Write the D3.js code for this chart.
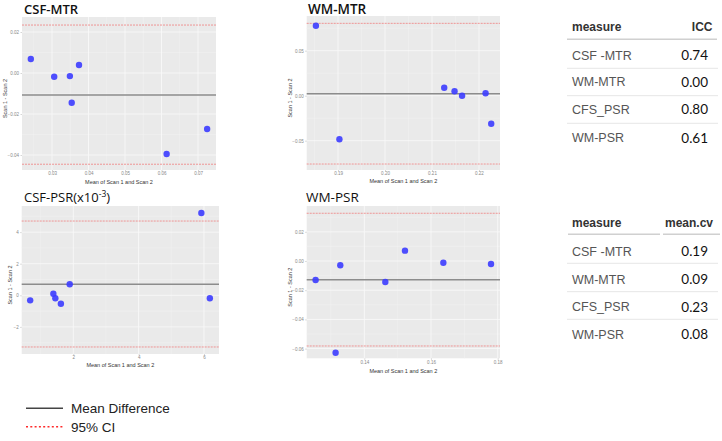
<!DOCTYPE html>
<html><head><meta charset="utf-8">
<script src="https://cdn.jsdelivr.net/npm/d3@7"></script>
<style>
html,body{margin:0;padding:0;background:#fff;}
svg{display:block;}
</style></head>
<body>
<svg id="chart" width="722" height="441"></svg>
<script>
// ---------- data ----------
const panelTitles = ["CSF-MTR", "WM-MTR", "CSF-PSR", "WM-PSR"];
const csfMtrX = [0.0242, 0.0306, 0.0349, 0.0374, 0.0354, 0.0614, 0.0725];
const csfMtrY = [0.0068, -0.0018, -0.0015, 0.0039, -0.0145, -0.0395, -0.0273];
const wmMtrX = [0.1853, 0.1903, 0.2126, 0.2148, 0.2164, 0.2214, 0.2226];
const wmMtrY = [0.0778, -0.0484, 0.0089, 0.0049, 0.0000, 0.0027, -0.0311];
const csfPsrX = [0.68, 1.39, 1.45, 1.62, 1.89, 5.92, 6.18];
const csfPsrY = [-0.32, 0.10, -0.19, -0.53, 0.70, 5.21, -0.19];
const wmPsrX = [0.1254, 0.1314, 0.1328, 0.1463, 0.1522, 0.1637, 0.1780];
const wmPsrY = [-0.0130, -0.0628, -0.0029, -0.0144, 0.0071, -0.0012, -0.0021];
const meanDiff = [-0.0107, 0.0022, 0.696, -0.0128];
const ciUpper = [0.0234, 0.0804, 4.70, 0.0327];
const ciLower = [-0.0445, -0.0759, -3.27, -0.0582];
const xTicks = [[0.03, 0.04, 0.05, 0.06, 0.07], [0.19, 0.20, 0.21, 0.22], [2, 4, 6], [0.14, 0.16, 0.18]];
const yTicks = [[0.02, 0.00, -0.02, -0.04], [0.05, 0.00, -0.05], [4, 2, 0, -2], [0.02, 0.00, -0.02, -0.04, -0.06]];
const xTickFmt = [".2f", ".2f", "d", ".2f"];
const yTickFmt = [".2f", ".2f", "d", ".2f"];

const tableMeasures = ["CSF -MTR", "WM-MTR", "CFS_PSR", "WM-PSR"];
const iccValues = ["0.74", "0.00", "0.80", "0.61"];
const cvValues = ["0.19", "0.09", "0.23", "0.08"];
const legendLabels = ["Mean Difference", "95% CI"];

// ---------- layout ----------
const panels = [
  {x0: 22, x1: 216, y0: 17, y1: 170, xd: [0.02178, 0.07493], yd: [0.02732, -0.04732], tx: 24, ty: 14, fs: 13, bold: 600, ylx: 5, xly: 183.5},
  {x0: 306.7, x1: 500, y0: 16, y1: 170, xd: [0.18334, 0.22447], yd: [0.08856, -0.08256], tx: 308, ty: 13.5, fs: 13.5, bold: 600, ylx: 290, xly: 182.5},
  {x0: 21.7, x1: 219, y0: 206, y1: 354, xd: [0.4206, 6.46], yd: [5.652, -3.715], tx: 24, ty: 202, fs: 13, bold: 500, ylx: 10, xly: 366.5},
  {x0: 306.7, x1: 500, y0: 206, y1: 358.3, xd: [0.12273, 0.18069], yd: [0.03767, -0.06664], tx: 306, ty: 202, fs: 13.5, bold: 500, ylx: 290, xly: 372.5}
];
const xs = [csfMtrX, wmMtrX, csfPsrX, wmPsrX];
const ys = [csfMtrY, wmMtrY, csfPsrY, wmPsrY];

const svg = d3.select("#chart");

panels.forEach((p, i) => {
  const x = d3.scaleLinear().domain(p.xd).range([p.x0, p.x1]);
  const y = d3.scaleLinear().domain(p.yd).range([p.y0, p.y1]);
  const g = svg.append("g");
  g.append("rect").attr("x", p.x0).attr("y", p.y0).attr("width", p.x1 - p.x0).attr("height", p.y1 - p.y0).attr("fill", "#eaeaea");

  // minor grid
  const xt = xTicks[i], yt = yTicks[i];
  const xstep = xt[1] - xt[0], ystep = yt[0] - yt[1];
  const xMinor = [], yMinor = [];
  for (let k = -2; k < xt.length + 2; k++) { const v = xt[0] + (k + 0.5) * xstep; if (v > p.xd[0] && v < p.xd[1]) xMinor.push(v); }
  for (let k = -2; k < yt.length + 2; k++) { const v = yt[0] - (k + 0.5) * ystep; if (v < p.yd[0] && v > p.yd[1]) yMinor.push(v); }
  g.selectAll(".xm").data(xMinor).join("line").attr("x1", d => x(d)).attr("x2", d => x(d)).attr("y1", p.y0).attr("y2", p.y1).attr("stroke", "#f3f3f3").attr("stroke-width", 0.5);
  g.selectAll(".ym").data(yMinor).join("line").attr("y1", d => y(d)).attr("y2", d => y(d)).attr("x1", p.x0).attr("x2", p.x1).attr("stroke", "#f3f3f3").attr("stroke-width", 0.5);

  // axes
  const xa = d3.axisBottom(x).tickValues(xt).tickFormat(d3.format(xTickFmt[i])).tickSize(1.5).tickPadding(0.8);
  const ya = d3.axisLeft(y).tickValues(yt).tickFormat(d3.format(yTickFmt[i])).tickSize(1.5).tickPadding(1.5);
  const gx = g.append("g").attr("transform", `translate(0,${p.y1})`).call(xa);
  const gy = g.append("g").attr("transform", `translate(${p.x0},0)`).call(ya);
  [gx, gy].forEach(a => {
    a.select(".domain").remove();
    a.selectAll("line").attr("stroke", "#aaa").attr("stroke-width", 0.5);
    a.selectAll("text").attr("fill", "#888").attr("font-size", "4.5px").attr("font-family", "Liberation Sans, Arial, sans-serif");
  });
  // major grid
  g.selectAll(".xg").data(xt).join("line").attr("x1", d => x(d)).attr("x2", d => x(d)).attr("y1", p.y0).attr("y2", p.y1).attr("stroke", "#f8f8f8").attr("stroke-width", 0.9);
  g.selectAll(".yg").data(yt).join("line").attr("y1", d => y(d)).attr("y2", d => y(d)).attr("x1", p.x0).attr("x2", p.x1).attr("stroke", "#f8f8f8").attr("stroke-width", 0.9);

  // CI lines
  [ciUpper[i], ciLower[i]].forEach(v => {
    g.append("line").attr("x1", p.x0).attr("x2", p.x1).attr("y1", y(v)).attr("y2", y(v))
      .attr("stroke", "#f08080").attr("stroke-width", 1).attr("stroke-dasharray", "2,1").attr("opacity", 0.8);
  });
  // mean line
  g.append("line").attr("x1", p.x0).attr("x2", p.x1).attr("y1", y(meanDiff[i])).attr("y2", y(meanDiff[i]))
    .attr("stroke", "#8c8c8c").attr("stroke-width", 1.6);

  // points
  g.selectAll(".pt").data(d3.range(xs[i].length)).join("circle")
    .attr("cx", k => x(xs[i][k])).attr("cy", k => y(ys[i][k])).attr("r", 3.2)
    .attr("fill", "#3c3cff").attr("fill-opacity", 0.9);

  // axis titles
  g.append("text").attr("x", (p.x0 + p.x1) / 2).attr("y", p.xly).attr("text-anchor", "middle")
    .attr("font-size", "5.5px").attr("fill", "#333").attr("font-family", "Liberation Sans, Arial, sans-serif")
    .text("Mean of Scan 1 and Scan 2");
  g.append("text").attr("transform", `translate(${p.ylx + 2},${(p.y0 + p.y1) / 2 + 5}) rotate(-90)`).attr("text-anchor", "middle")
    .attr("font-size", "5.5px").attr("fill", "#333").attr("font-family", "Liberation Sans, Arial, sans-serif")
    .text("Scan 1 - Scan 2");

  // panel title
  const t = g.append("text").attr("x", p.tx).attr("y", p.ty).attr("font-size", p.fs + "px").attr("font-weight", p.bold)
    .attr("font-family", "Open Sans, sans-serif").attr("fill", "#111").text(panelTitles[i]);
  if (i === 2) {
    t.append("tspan").text("(x10");
    t.append("tspan").attr("dy", -5).attr("font-size", "8.5px").text("-3");
    t.append("tspan").attr("dy", 5).text(")");
  }
});

// ---------- tables ----------
function drawTable(headRight, values, splitHeader, rowY, sepY, headY, ruleY, valueHeader) {
  const tg = svg.append("g").attr("font-family", "Liberation Sans, Arial, sans-serif");
  tg.append("text").attr("x", 572).attr("y", headY).attr("font-size", "12px").attr("font-weight", "bold").attr("fill", "#333").text("measure");
  tg.append("text").attr("x", valueHeader.x).attr("y", headY).attr("text-anchor", valueHeader.anchor)
    .attr("font-size", "12px").attr("font-weight", "bold").attr("fill", "#333").text(headRight);
  if (splitHeader) {
    tg.append("line").attr("x1", 568).attr("x2", 660).attr("y1", ruleY).attr("y2", ruleY).attr("stroke", "#d0d0d0").attr("stroke-width", 1.5);
    tg.append("line").attr("x1", 663).attr("x2", 720).attr("y1", ruleY).attr("y2", ruleY).attr("stroke", "#d0d0d0").attr("stroke-width", 1.5);
  } else {
    tg.append("line").attr("x1", 567).attr("x2", 717).attr("y1", ruleY).attr("y2", ruleY).attr("stroke", "#d0d0d0").attr("stroke-width", 1.5);
  }
  tg.selectAll(".sep").data(sepY).join("line").attr("x1", 567).attr("x2", 718).attr("y1", d => d).attr("y2", d => d)
    .attr("stroke", "#e6e6e6").attr("stroke-width", 1);
  tg.selectAll(".m").data(tableMeasures).join("text").attr("x", 572).attr("y", (d, k) => rowY[k] + 4.5)
    .attr("font-size", "12.5px").attr("fill", "#555").text(d => d);
  tg.selectAll(".v").data(values).join("text").attr("x", 708).attr("y", (d, k) => rowY[k] + 5)
    .attr("text-anchor", "end").attr("font-size", "13.5px").attr("font-family", "Lato, sans-serif").attr("fill", "#111").text(d => d);
}
drawTable("ICC", iccValues, false, [55, 81.7, 109.3, 137.7], [68.3, 95.7, 123.3], 30.5, 39.3, {x: 712.5, anchor: "end"});
drawTable("mean.cv", cvValues, true, [251, 279.3, 306.7, 334], [263.3, 291.7, 319.3], 227, 234.3, {x: 665, anchor: "start"});

// ---------- legend ----------
const lg = svg.append("g").attr("font-family", "Liberation Sans, Arial, sans-serif");
lg.append("line").attr("x1", 26).attr("x2", 63).attr("y1", 408.3).attr("y2", 408.3).attr("stroke", "#444").attr("stroke-width", 1.4);
lg.append("line").attr("x1", 26).attr("x2", 63).attr("y1", 426.7).attr("y2", 426.7).attr("stroke", "#ff2a2a").attr("stroke-width", 1.4).attr("stroke-dasharray", "2,2.3");
lg.selectAll(".lt").data(legendLabels).join("text").attr("x", 71).attr("y", (d, k) => [413, 431.5][k])
  .attr("font-size", "13.5px").attr("fill", "#222").text(d => d);
</script>
</body></html>
